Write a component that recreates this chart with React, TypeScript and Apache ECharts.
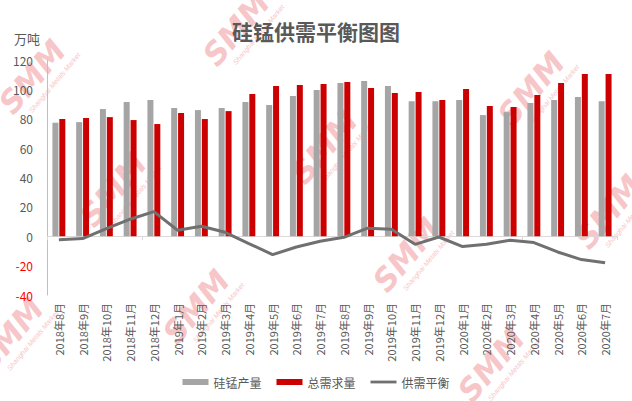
import React, { useEffect, useRef } from "react";
import * as echarts from "echarts";

const categories = [
  "2018年8月", "2018年9月", "2018年10月", "2018年11月", "2018年12月",
  "2019年1月", "2019年2月", "2019年3月", "2019年4月", "2019年5月", "2019年6月",
  "2019年7月", "2019年8月", "2019年9月", "2019年10月", "2019年11月", "2019年12月",
  "2020年1月", "2020年2月", "2020年3月", "2020年4月", "2020年5月", "2020年6月", "2020年7月",
];
const production = [77.3, 77.7, 86.6, 91.4, 92.7, 87.3, 85.9, 87.3, 91.4, 89.3, 95.5, 99.5, 104.3, 105.7, 102.3, 92, 92, 92.7, 82.5, 84.5, 90.7, 92.7, 94.8, 92];
const demand = [79.8, 80.5, 81.1, 79.1, 76.4, 83.9, 79.8, 85.2, 96.8, 102.3, 103, 103.6, 105, 100.9, 97.5, 98.2, 92.7, 100.2, 88.6, 88, 96.1, 104.3, 110.5, 110.5];
const balance = [-2.3, -1.6, 5.2, 11.6, 16.8, 4.1, 6.8, 2.7, -5, -12.5, -7.3, -3.4, -0.7, 5.5, 4.8, -5.5, -0.5, -7, -5.5, -2.7, -4.3, -10.7, -15.9, -18];
const seriesNames = ["硅锰产量", "总需求量", "供需平衡"];
const titleText = "硅锰供需平衡图图";
const unitText = "万吨";
const watermarkSpots = [
  [36, 80], [240, 32], [117, 193], [328, 150], [535, 92], [612, 215],
  [410, 258], [200, 310], [14, 338], [495, 368],
];

const FONT = "'Noto Sans CJK SC', 'Noto Sans', sans-serif";
const PINK = "#f6c6c8";

function watermark(cx: number, cy: number) {
  return {
    type: "group",
    x: cx,
    y: cy,
    rotation: (50 * Math.PI) / 180,
    silent: true,
    children: [
      {
        type: "text",
        x: 0,
        y: -5,
        style: {
          text: "SMM",
          fill: PINK,
          font: "italic bold 31px 'DejaVu Sans', sans-serif",
          align: "center",
          verticalAlign: "middle",
        },
      },
      {
        type: "text",
        x: 10,
        y: 16,
        style: {
          text: "Shanghai Metals Market",
          fill: PINK,
          font: "italic 7px 'Liberation Sans', Arial, sans-serif",
          align: "center",
          verticalAlign: "middle",
        },
      },
    ],
  };
}

export default function App() {
  const ref = useRef<HTMLDivElement>(null);
  useEffect(() => {
    if (!ref.current) return;
    const chart = echarts.init(ref.current, null, { renderer: "svg" });
    chart.setOption({
      animation: false,
      backgroundColor: "#ffffff",
      textStyle: { fontFamily: FONT },
      title: {
        text: titleText,
        left: "center",
        top: 15,
        textStyle: { fontSize: 21, fontWeight: "bold", color: "#595959", fontFamily: FONT },
      },
      graphic: [
        ...watermarkSpots.map(([x, y]) => watermark(x, y)),
        {
          type: "text",
          left: 14,
          top: 32,
          style: { text: unitText, fill: "#595959", font: `13px ${FONT}` },
        },
      ],
      legend: {
        left: "center",
        top: 371,
        itemWidth: 26,
        itemHeight: 6,
        itemGap: 15,
        textStyle: { fontSize: 12, color: "#595959", fontFamily: FONT },
        data: [
          { name: seriesNames[0], icon: "rect" },
          { name: seriesNames[1], icon: "rect" },
          { name: seriesNames[2], icon: "path://M0,0M0,1.6h26v2.8h-26zM26,6" },
        ],
      },
      grid: { left: 47, right: 15, top: 60, bottom: 106, containLabel: false },
      xAxis: [
        {
          type: "category",
          data: categories,
          position: "bottom",
          axisLine: { show: false, onZero: false },
          axisTick: { show: false },
          axisLabel: { rotate: 90, fontSize: 11, color: "#595959", margin: 8, interval: 0, fontFamily: FONT },
        },
        {
          type: "category",
          data: categories,
          position: "bottom",
          axisLine: { show: true, onZero: true, lineStyle: { color: "#d9d9d9", width: 1 } },
          axisTick: { show: true, length: 4, lineStyle: { color: "#d9d9d9" } },
          axisLabel: { show: false },
        },
      ],
      yAxis: {
        type: "value",
        min: -40,
        max: 120,
        interval: 20,
        splitLine: { show: false },
        axisLine: { show: true, lineStyle: { color: "#bfbfbf" } },
        axisTick: { show: false },
        axisLabel: {
          margin: 14,
          formatter: (v: number) => (v < 0 ? `{n|${v}}` : `{p|${v}}`),
          rich: {
            n: { color: "#ff0000", fontSize: 12, fontFamily: FONT },
            p: { color: "#595959", fontSize: 12, fontFamily: FONT },
          },
        },
      },
      series: [
        {
          name: seriesNames[0],
          type: "bar",
          data: production,
          barWidth: 6,
          barGap: "15%",
          itemStyle: { color: "#a5a5a5" },
        },
        {
          name: seriesNames[1],
          type: "bar",
          data: demand,
          barWidth: 6,
          itemStyle: { color: "#cc0000" },
        },
        {
          name: seriesNames[2],
          type: "line",
          data: balance,
          symbol: "none",
          lineStyle: { color: "#707070", width: 3 },
          itemStyle: { color: "#707070" },
          z: 5,
        },
      ],
    });
    return () => chart.dispose();
  }, []);
  return (
    <div
      ref={ref}
      style={{ position: "fixed", left: 0, top: 0, width: 632, height: 401 }}
    />
  );
}
